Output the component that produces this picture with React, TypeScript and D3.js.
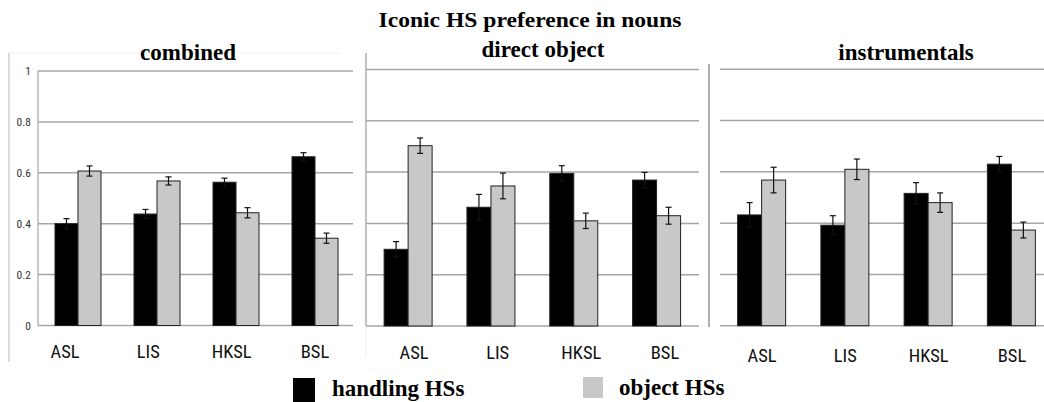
import React from "react";
import * as d3 from "d3";

const categories = ["ASL", "LIS", "HKSL", "BSL"];
const panelTitles = ["combined", "direct object", "instrumentals"];
const seriesNames = ["handling HSs", "object HSs"];
const yTicks = [0, 0.2, 0.4, 0.6, 0.8, 1];
const yTickLabels = ["0", "0.2", "0.4", "0.6", "0.8", "1"];

const handlingCombined = [0.4, 0.438, 0.563, 0.663];
const handlingCombinedErr = [0.02, 0.018, 0.016, 0.016];
const objectCombined = [0.607, 0.568, 0.443, 0.343];
const objectCombinedErr = [0.02, 0.016, 0.02, 0.02];

const handlingDirect = [0.299, 0.463, 0.595, 0.569];
const handlingDirectErr = [0.03, 0.05, 0.03, 0.03];
const objectDirect = [0.703, 0.546, 0.41, 0.43];
const objectDirectErr = [0.03, 0.05, 0.03, 0.033];

const handlingInstr = [0.432, 0.392, 0.516, 0.63];
const handlingInstrErr = [0.048, 0.037, 0.042, 0.03];
const objectInstr = [0.568, 0.61, 0.48, 0.373];
const objectInstrErr = [0.05, 0.04, 0.038, 0.031];

const W = 1044;
const H = 402;

const panels = [
  {
    title: panelTitles[0], titleX: 188, titleY: 60,
    handling: handlingCombined, handlingErr: handlingCombinedErr,
    object: objectCombined, objectErr: objectCombinedErr,
    x0: 38.5, x1: 354.5, gridX0: 38, gridX1: 353, y0: 325.5, y1: 71, barW: 23,
    labelX0: 65, labelX1: 315, labelY: 358,
  },
  {
    title: panelTitles[1], titleX: 543, titleY: 57,
    handling: handlingDirect, handlingErr: handlingDirectErr,
    object: objectDirect, objectErr: objectDirectErr,
    x0: 366.7, x1: 698, gridX0: 366, gridX1: 699, y0: 326, y1: 69.5, barW: 24,
    labelX0: 414, labelX1: 665, labelY: 359,
  },
  {
    title: panelTitles[2], titleX: 906, titleY: 60,
    handling: handlingInstr, handlingErr: handlingInstrErr,
    object: objectInstr, objectErr: objectInstrErr,
    x0: 720, x1: 1053, gridX0: 720, gridX1: 1044, y0: 325.7, y1: 69.3, barW: 24,
    labelX0: 762, labelX1: 1012, labelY: 362,
  },
];

const serif = "'Liberation Serif', 'Times New Roman', serif";
const narrow = "'Liberation Sans Narrow', 'Roboto Condensed', 'Liberation Sans', sans-serif";
const BLACK = "#000";
const GRAY = "#c8c8c8";
const GRID = "#a6a6a6";

function Panel({ p, idx }: { p: any; idx: number }) {
  const x = d3.scaleBand<string>().domain(categories).range([p.x0, p.x1]).padding(0);
  const y = d3.scaleLinear().domain([0, 1]).range([p.y0, p.y1]);
  const lx = d3.scalePoint<string>().domain(categories).range([p.labelX0, p.labelX1]);
  const series = [
    { vals: p.handling, errs: p.handlingErr, fill: BLACK, off: -1 },
    { vals: p.object, errs: p.objectErr, fill: GRAY, off: 0 },
  ];
  return (
    <g>
      {yTicks.map((t) => (
        <line key={t} x1={p.gridX0} x2={p.gridX1} y1={y(t)} y2={y(t)} stroke={GRID} strokeWidth={1.5} />
      ))}
      {idx === 0 &&
        yTicks.map((t, i) => (
          <text key={t} x={31} y={y(t) + 4} textAnchor="end" fontFamily={narrow} fontSize={11.5} fill="#333">
            {yTickLabels[i]}
          </text>
        ))}
      {series.map((s, si) =>
        categories.map((c, ci) => {
          const cx = (x(c) as number) + x.bandwidth() / 2;
          const bx = cx + s.off * p.barW;
          return (
            <g key={c + si}>
              <rect x={bx} y={y(s.vals[ci])} width={p.barW} height={y(0) - y(s.vals[ci])} fill={s.fill} stroke="#222" strokeWidth={1} />
              <line x1={bx + p.barW / 2} x2={bx + p.barW / 2} y1={y(s.vals[ci] + s.errs[ci])} y2={y(s.vals[ci] - s.errs[ci])} stroke="#111" strokeWidth={1.2} />
              <line x1={bx + p.barW / 2 - 3} x2={bx + p.barW / 2 + 3} y1={y(s.vals[ci] + s.errs[ci])} y2={y(s.vals[ci] + s.errs[ci])} stroke="#111" strokeWidth={1.2} />
              <line x1={bx + p.barW / 2 - 3} x2={bx + p.barW / 2 + 3} y1={y(s.vals[ci] - s.errs[ci])} y2={y(s.vals[ci] - s.errs[ci])} stroke="#111" strokeWidth={1.2} />
            </g>
          );
        })
      )}
      {categories.map((c) => (
        <text key={c} x={lx(c)} y={p.labelY} textAnchor="middle" fontFamily={narrow} fontSize={18.5} fill="#111">
          {c}
        </text>
      ))}
      <text x={p.titleX} y={p.titleY} textAnchor="middle" fontFamily={serif} fontWeight="bold" fontSize={23} fill="#000">
        {p.title}
      </text>
    </g>
  );
}

export default function App() {
  const y1 = d3.scaleLinear().domain([0, 1]).range([325.5, 71]);
  return (
    <svg width={W} height={H} style={{ position: "absolute", left: 0, top: 0, background: "#fff" }}>
      <rect x={0} y={0} width={W} height={H} fill="#fff" />
      {/* panel frames */}
      <line x1={9} x2={9} y1={53} y2={362} stroke="#c4c4c4" strokeWidth={1.2} />
      <line x1={9} x2={340} y1={53} y2={53} stroke="#f0f0f0" strokeWidth={1} />
      <line x1={38} x2={38} y1={y1(1)} y2={y1(0)} stroke={GRID} strokeWidth={1.2} />
      <line x1={366} x2={366} y1={53} y2={326} stroke="#9a9a9a" strokeWidth={1.2} />
      <line x1={366} x2={366} y1={326} y2={358} stroke="#eee" strokeWidth={1} />
      <line x1={709} x2={709} y1={64} y2={327} stroke="#b0b0b0" strokeWidth={2} />
      {panels.map((p, i) => (
        <Panel key={i} p={p} idx={i} />
      ))}
      <text x={530} y={27} textAnchor="middle" fontFamily={serif} fontWeight="bold" fontSize={22} textLength={303} lengthAdjust="spacingAndGlyphs" fill="#000">
        Iconic HS preference in nouns
      </text>
      {/* legend */}
      <rect x={293} y={378} width={22} height={26} fill={BLACK} />
      <text x={332} y={396} fontFamily={serif} fontWeight="bold" fontSize={23} fill="#000">
        {seriesNames[0]}
      </text>
      <rect x={583} y={377} width={20} height={21} fill={GRAY} />
      <text x={619} y={395} fontFamily={serif} fontWeight="bold" fontSize={23} fill="#000">
        {seriesNames[1]}
      </text>
    </svg>
  );
}
